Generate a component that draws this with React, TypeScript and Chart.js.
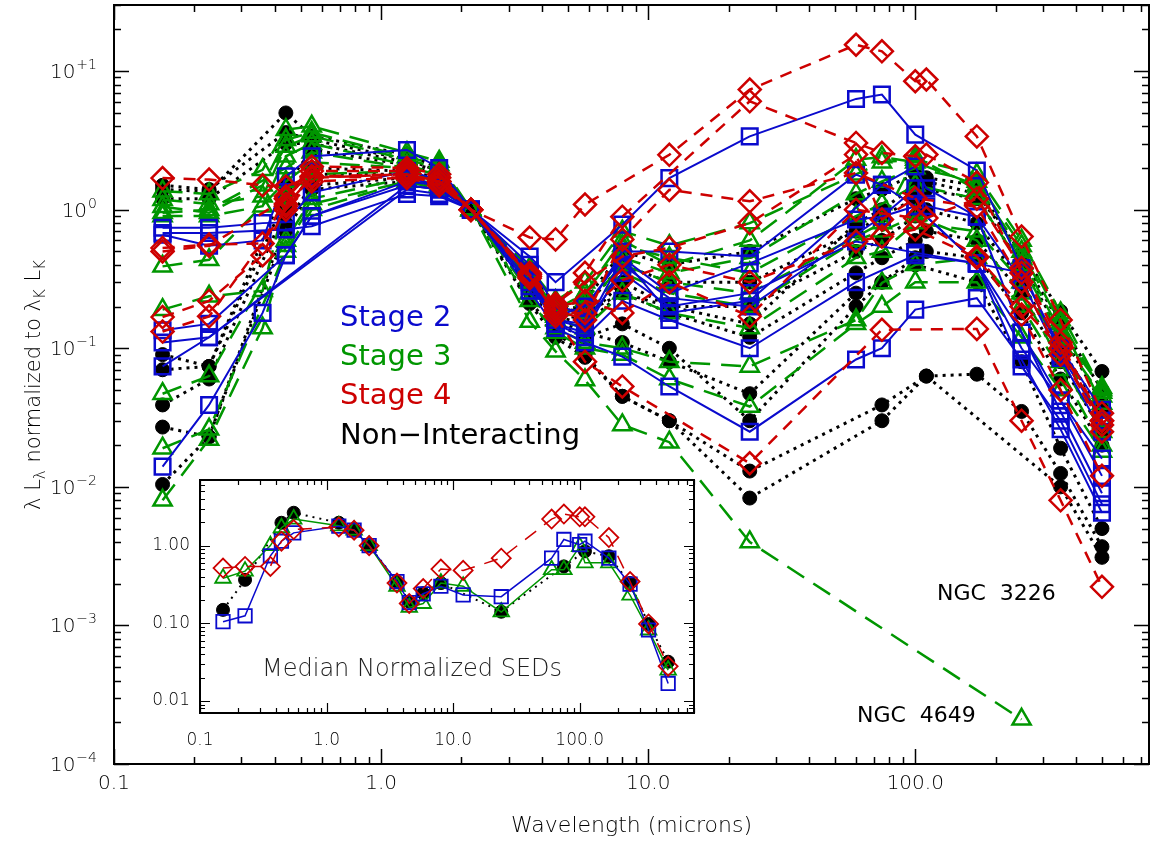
import React, { useEffect, useRef } from 'react';
import { Chart, registerables } from 'chart.js';

Chart.register(...registerables);

const FONT = "'DejaVu Sans', sans-serif";
const W = '300';

// Band wavelengths (microns): FUV, NUV, U, B, V, J, H, K, 3.6, 4.5, 5.8, 8, 12, 24, 60, 75, 100, 110, 170, 250, 350, 500
const wavelengths = [0.152, 0.227, 0.36, 0.44, 0.55, 1.25, 1.65, 2.17, 3.6, 4.5, 5.8, 8.0, 12, 24, 60, 75, 100, 110, 170, 250, 350, 500];

// tick labels
const xTickValues = [0.1, 1, 10, 100];
const xTickLabels = ['0.1', '1.0', '10.0', '100.0'];
const yTickValues = [1e-4, 1e-3, 1e-2, 1e-1, 1, 10];
const yTickExponents = ['\u22124', '\u22123', '\u22122', '\u22121', '0', '+1'];
const insetYTickValues = [0.01, 0.1, 1];
const insetYTickLabels = ['0.01', '0.10', '1.00'];

// ---- Stage 2 (blue squares, solid) ----
const stage2_a = [0.74, 0.74, 0.80, 0.81, 1.33, 1.90, 1.65, 1, 0.46, 0.30, null, 0.78, 1.69, 3.38, 6.30, 6.77, 3.48, null, 1.92, 0.38, 0.090, 0.030];
const stage2_b = [0.68, 0.68, null, 0.72, 0.76, 1.30, 1.25, 1, 0.40, 0.20, 0.18, 0.50, 0.50, 0.46, 1.79, 1.51, 2.05, 1.43, 0.89, 0.31, 0.085, 0.025];
const stage2_c = [0.66, 0.55, 0.60, 1.74, 2.43, 2.70, 2.00, 1, 0.35, 0.17, 0.20, 0.45, 0.25, 0.41, 0.85, 0.89, 1.06, null, 0.41, 0.35, 0.10, 0.036];
const stage2_d = [0.135, 0.15, null, 0.47, 0.90, 1.60, 1.50, 1, 0.30, 0.16, 0.15, 0.35, 0.20, 0.25, 0.59, null, 0.49, null, 0.41, 0.13, 0.042, 0.016];
const stage2_e = [0.014, 0.039, 0.18, 0.47, 0.90, 1.50, 1.40, 1, 0.26, 0.14, 0.11, 0.087, 0.053, 0.025, 0.083, 0.10, 0.19, null, 0.23, 0.083, 0.026, 0.0065];
const stage2_f = [0.11, 0.12, null, null, null, 1.50, 1.40, 1, 0.36, 0.15, 0.12, 0.22, 0.16, 0.10, 0.30, null, 0.47, null, 0.41, 0.10, 0.042, 0.012];
const stage2_g = [0.074, 0.12, null, null, null, 1.40, 1.30, 1, 0.33, 0.15, 0.13, 0.40, 0.23, 0.20, null, 0.89, 1.43, 1.06, 0.89, 0.13, 0.035, 0.009];
const stage2_h = [null, null, null, null, null, 1.70, 1.50, 1, 0.28, 0.16, 0.14, 0.45, 0.18, 0.22, null, 1.51, 1.06, null, 0.41, 0.074, 0.030, 0.0075];

// ---- Stage 3 (green triangles, long dash) ----
const stage3_a = [1.36, 1.30, 1.94, 3.78, 4.00, 2.58, 2.23, 1, 0.30, 0.17, 0.25, 0.55, 0.45, 0.35, 0.90, 1.10, 1.50, null, 1.20, 0.40, 0.12, 0.045];
const stage3_b = [1.18, 1.10, 1.25, 2.86, 3.40, 2.30, 2.00, 1, 0.32, 0.18, 0.20, 0.40, 0.30, 0.25, null, 0.80, 2.40, null, 1.40, 0.45, 0.13, 0.052];
const stage3_c = [0.90, 0.90, 1.06, 2.43, 3.00, 2.10, 1.80, 1, 0.35, 0.19, 0.25, 0.60, 0.40, 0.60, 2.30, 2.40, 2.20, null, 1.50, 0.50, 0.15, 0.040];
const stage3_d = [0.39, 0.435, null, 1.60, 2.20, 2.00, 1.70, 1, 0.32, 0.17, 0.18, 0.35, 0.25, 0.20, 0.60, 0.70, 0.90, null, 0.60, 0.25, 0.08, 0.025];
const stage3_e = [0.19, 0.237, 0.26, 1.20, 1.80, 1.90, 1.60, 1, 0.30, 0.16, 0.14, 0.25, 0.18, 0.14, 0.45, 0.50, 0.80, null, 0.70, 0.30, 0.10, 0.030];
const stage3_f = [0.047, 0.063, null, 0.60, 1.20, 1.70, 1.60, 1, 0.25, 0.14, 0.11, 0.10, 0.08, 0.074, 0.16, 0.296, 0.40, null, 0.45, 0.20, 0.07, 0.020];
const stage3_g = [0.019, 0.026, null, 0.50, 1.00, 1.60, 1.50, 1, 0.22, 0.13, 0.10, 0.09, 0.06, 0.038, 0.15, 0.20, 0.30, null, 0.30, 0.12, 0.05, 0.018];
const stage3_h = [0.95, 1.00, null, 2.00, 2.60, 2.00, 1.80, 1, 0.38, 0.22, 0.30, 0.70, 0.55, 0.80, 1.80, 2.20, 2.30, null, 1.80, 0.60, 0.18, 0.050];
const stage3_i = [1.05, 0.95, 1.50, 3.20, 3.60, 2.40, 2.10, 1, 0.33, 0.19, 0.22, 0.45, 0.35, 0.45, 1.30, 1.60, 2.00, null, 1.60, 0.55, 0.16, 0.048];
const ngc4649 = [0.008, 0.022, 0.14, 0.55, 1.10, 1.60, 1.40, 1, 0.156, 0.095, 0.059, 0.028, 0.021, 0.004, null, null, null, null, null, 0.00021, null, null];

// ---- Stage 4 (red diamonds, dashed) ----
const stage4_a = [1.69, 1.65, 1.50, 1.47, 1.74, 1.70, 1.60, 1, 0.63, 0.61, 1.09, null, 2.49, 7.36, 15.5, 13.9, 8.45, 8.70, 3.38, 0.64, 0.16, 0.034];
const stage4_b = [0.53, 0.56, 0.57, 1.25, 2.05, 2.00, 1.80, 1, 0.34, 0.20, 0.35, 0.89, null, 6.06, 3.03, 2.57, 2.43, 2.50, 1.57, 0.35, 0.10, 0.025];
const stage4_c = [0.168, 0.22, 0.47, 1.06, 1.74, 1.80, 1.60, 1, 0.34, 0.19, 0.16, 0.61, 1.39, 1.15, 1.84, null, 1.21, null, 1.05, 0.30, 0.090, 0.028];
const stage4_e = [0.50, 0.55, null, 1.20, 1.90, 1.90, 1.70, 1, 0.35, 0.21, 0.30, 0.46, 0.53, 0.80, 2.50, 0.85, 1.21, 0.87, 1.20, 0.38, 0.11, 0.030];
const stage4_f = [null, null, null, 1.10, 1.70, 1.80, 1.60, 1, 0.33, 0.18, 0.18, 0.31, 0.40, 0.30, 0.59, 0.64, 0.72, null, 0.45, 0.175, 0.050, 0.012];
const stage4_g = [null, null, null, null, null, 1.70, 1.50, 1, 0.32, 0.20, 0.22, 0.18, 0.30, 0.17, 1.00, null, 0.87, null, 0.46, 0.20, 0.10, 0.030];
const ngc3226 = [0.132, 0.17, null, 1.00, 1.60, 1.70, 1.50, 1, 0.33, 0.17, 0.08, 0.053, null, 0.0148, null, 0.136, null, null, 0.138, 0.030, 0.008, 0.0019];

// ---- Non-interacting (black filled circles, dotted) ----
const nonint_a = [1.40, 1.35, null, 4.99, 3.40, 2.50, 2.00, 1, 0.35, 0.20, 0.18, 0.25, 0.20, 0.15, 0.80, 1.00, 1.50, 1.60, 1.30, 0.49, 0.185, 0.068];
const nonint_b = [1.20, 1.20, null, 3.00, 3.00, 2.20, 1.90, 1, 0.33, 0.19, 0.20, 0.40, 0.30, 0.30, 0.70, 0.90, 1.20, 1.40, 1.20, 0.40, 0.13, 0.040];
const nonint_c = [0.09, 0.074, null, 1.50, 2.70, 2.10, 1.80, 1, 0.32, 0.18, 0.16, 0.30, 0.20, 0.20, 0.50, 0.60, 0.90, 1.00, 0.80, 0.30, 0.10, 0.035];
const nonint_d = [0.07, 0.074, null, 1.20, 2.00, 1.90, 1.70, 1, 0.30, 0.17, 0.15, 0.25, 0.18, 0.12, 0.35, 0.45, 0.60, 0.70, 0.60, 0.25, 0.08, 0.025];
const nonint_e = [0.039, 0.060, null, 1.00, 1.80, 1.80, 1.60, 1, 0.28, 0.16, 0.13, 0.11, 0.08, 0.047, 0.25, 0.30, 0.45, 0.50, 0.45, 0.18, 0.06, 0.020];
const nonint_f = [0.027, 0.023, null, 0.80, 1.50, 1.70, 1.50, 1, 0.22, 0.13, 0.09, 0.045, 0.030, 0.013, null, 0.039, null, 0.063, 0.065, 0.035, 0.0125, 0.0037];
const nonint_g = [0.0104, 0.023, null, 0.70, 1.40, 1.60, 1.50, 1, 0.21, 0.12, 0.086, 0.045, 0.030, 0.0083, null, 0.030, null, 0.063, null, null, 0.010, 0.0031];
const nonint_h = [null, null, null, null, null, 1.80, 1.60, 1, 0.26, 0.15, 0.12, 0.15, 0.10, 0.030, 0.20, 0.30, 0.40, null, 0.30, 0.08, 0.019, 0.005];
const nonint_i = [1.50, 1.40, null, 3.60, 3.20, 2.30, 1.90, 1, 0.34, 0.20, 0.22, 0.50, 0.40, 0.50, 1.20, 1.40, 1.80, 1.70, 1.50, 0.45, 0.15, 0.050];

// ---- Inset: median normalized SEDs ----
const median_nonint = [0.149, 0.363, null, 1.97, 2.65, 1.97, 1.61, 1, 0.345, 0.19, 0.244, 0.33, null, 0.141, null, 0.54, null, 0.845, 0.73, 0.33, 0.098, 0.032];
const median_stage2 = [0.105, 0.125, 0.74, 1.14, 1.46, 1.78, 1.58, 1, 0.345, 0.185, 0.24, 0.30, 0.232, 0.22, 0.69, 1.20, 1.03, 1.14, 0.69, 0.32, 0.082, 0.0168];
const median_stage3 = [0.38, 0.47, 1.00, 1.70, 2.20, 1.80, 1.58, 1, 0.30, 0.16, 0.18, 0.33, 0.30, 0.14, 0.49, 0.49, 0.97, 0.60, 0.60, 0.23, 0.082, 0.025];
const median_stage4 = [0.515, 0.54, 0.54, 1.14, 1.61, 1.74, 1.58, 1, 0.33, 0.18, 0.28, 0.50, 0.48, 0.69, 2.20, 2.55, 2.35, 2.35, 1.27, 0.345, 0.098, 0.028];

const BLUE = 'rgb(10,10,205)';
const GREEN = 'rgb(0,150,0)';
const RED = 'rgb(205,0,0)';
const BLACK = '#000';

type Vals = (number | null)[];

function toPoints(vals: Vals) {
  const pts: { x: number; y: number }[] = [];
  vals.forEach((v, i) => {
    if (v !== null && v !== undefined) pts.push({ x: wavelengths[i], y: v });
  });
  return pts;
}

type Style = {
  color: string;
  pointStyle: string;
  radius: number;
  filled: boolean;
  dash: number[];
  lineWidth: number;
  pointBorder: number;
};

function makeDataset(vals: Vals, s: Style) {
  return {
    data: toPoints(vals),
    borderColor: s.color,
    backgroundColor: s.filled ? s.color : 'rgba(0,0,0,0)',
    borderWidth: s.lineWidth,
    borderDash: s.dash,
    borderCapStyle: 'butt',
    pointStyle: s.pointStyle,
    pointRadius: s.radius,
    pointHoverRadius: s.radius,
    pointBorderWidth: s.pointBorder,
    pointBorderColor: s.color,
    pointBackgroundColor: s.filled ? s.color : 'rgba(0,0,0,0)',
    tension: 0,
    fill: false,
    spanGaps: true,
  };
}

function logTicks(min: number, max: number) {
  const out: { v: number; major: boolean }[] = [];
  for (let e = Math.floor(Math.log10(min)); e <= Math.ceil(Math.log10(max)); e++) {
    for (let m = 1; m <= 9; m++) {
      const v = m * Math.pow(10, e);
      if (v >= min * 0.9999 && v <= max * 1.0001) out.push({ v, major: m === 1 });
    }
  }
  return out;
}

type LabelCfg = {
  xFont: number;
  xLabelY: number;
  yLabelRight: number;
  yLabels: (ctx: any, ys: any, right: number) => void;
};

function framePlugin(id: string, major: number, minor: number, frameWidth: number, tickWidth: number, whiteBg: boolean, lab: LabelCfg) {
  return {
    id,
    beforeDraw(chart: any) {
      if (!whiteBg) return;
      const { ctx, chartArea: a } = chart;
      ctx.save();
      ctx.fillStyle = '#fff';
      ctx.fillRect(a.left, a.top, a.right - a.left, a.bottom - a.top);
      ctx.restore();
    },
    afterDatasetsDraw(chart: any) {
      const { ctx, chartArea: a } = chart;
      const xs = chart.scales.x;
      const ys = chart.scales.y;
      ctx.save();
      ctx.strokeStyle = '#000';
      ctx.setLineDash([]);
      ctx.lineWidth = tickWidth;
      ctx.beginPath();
      for (const t of logTicks(xs.min, xs.max)) {
        const p = Math.round(xs.getPixelForValue(t.v)) + 0.5;
        const l = t.major ? major : minor;
        ctx.moveTo(p, a.bottom);
        ctx.lineTo(p, a.bottom - l);
        ctx.moveTo(p, a.top);
        ctx.lineTo(p, a.top + l);
      }
      for (const t of logTicks(ys.min, ys.max)) {
        const p = Math.round(ys.getPixelForValue(t.v)) + 0.5;
        const l = t.major ? major : minor;
        ctx.moveTo(a.left, p);
        ctx.lineTo(a.left + l, p);
        ctx.moveTo(a.right, p);
        ctx.lineTo(a.right - l, p);
      }
      ctx.stroke();
      ctx.lineWidth = frameWidth;
      ctx.strokeRect(a.left, a.top, a.right - a.left, a.bottom - a.top);

      // x tick labels
      ctx.fillStyle = '#000';
      ctx.font = `${W} ${lab.xFont}px ${FONT}`;
      ctx.textAlign = 'center';
      ctx.textBaseline = 'middle';
      xTickValues.forEach((v, i) => {
        if (v < xs.min * 0.999 || v > xs.max) return;
        ctx.fillText(xTickLabels[i], xs.getPixelForValue(v), lab.xLabelY);
      });
      // y tick labels
      lab.yLabels(ctx, ys, lab.yLabelRight);
      ctx.restore();
    },
  };
}

function mainYLabels(ctx: any, ys: any, right: number) {
  const big = `${W} 20px ${FONT}`;
  const small = `${W} 14px ${FONT}`;
  ctx.textAlign = 'left';
  ctx.textBaseline = 'alphabetic';
  yTickValues.forEach((v, i) => {
    const py = ys.getPixelForValue(v);
    ctx.font = big;
    const wb = ctx.measureText('10').width;
    ctx.font = small;
    const ws = ctx.measureText(yTickExponents[i]).width;
    const x0 = right - wb - ws - 1;
    ctx.font = big;
    ctx.fillText('10', x0, py + 7);
    ctx.font = small;
    ctx.fillText(yTickExponents[i], x0 + wb + 1, py - 2);
  });
}

function insetYLabels(ctx: any, ys: any, right: number) {
  ctx.font = `${W} 17px ${FONT}`;
  ctx.textAlign = 'right';
  ctx.textBaseline = 'middle';
  insetYTickValues.forEach((v, i) => {
    ctx.fillText(insetYTickLabels[i], right, ys.getPixelForValue(v));
  });
}

const annotationsPlugin = {
  id: 'mainText',
  afterDraw(chart: any) {
    const { ctx, chartArea: a } = chart;
    ctx.save();
    ctx.textBaseline = 'alphabetic';
    ctx.textAlign = 'left';
    ctx.font = `400 29px ${FONT}`;
    ctx.fillStyle = BLUE;
    ctx.fillText('Stage 2', 340, 326);
    ctx.fillStyle = GREEN;
    ctx.fillText('Stage 3', 340, 365);
    ctx.fillStyle = RED;
    ctx.fillText('Stage 4', 340, 404);
    ctx.fillStyle = BLACK;
    ctx.fillText('Non\u2212Interacting', 340, 444);

    ctx.font = `400 22px ${FONT}`;
    ctx.textBaseline = 'middle';
    ctx.fillText('NGC  3226', 937, 594);
    ctx.fillText('NGC  4649', 857, 716);

    // x-axis title
    ctx.font = `${W} 22px ${FONT}`;
    ctx.textAlign = 'center';
    ctx.fillText('Wavelength (microns)', (a.left + a.right) / 2, 826);

    // y-axis title with subscripts
    const main = `${W} 21px ${FONT}`;
    const sub = `${W} 15px ${FONT}`;
    const parts: { t: string; s: boolean }[] = [
      { t: '\u03BB L', s: false },
      { t: '\u03BB', s: true },
      { t: ' normalized to \u03BB', s: false },
      { t: 'K', s: true },
      { t: ' L', s: false },
      { t: 'K', s: true },
    ];
    let total = 0;
    for (const p of parts) {
      ctx.font = p.s ? sub : main;
      total += ctx.measureText(p.t).width + (p.s ? 1 : 0);
    }
    ctx.translate(33, (a.top + a.bottom) / 2);
    ctx.rotate(-Math.PI / 2);
    ctx.textAlign = 'left';
    ctx.textBaseline = 'alphabetic';
    let x = -total / 2;
    for (const p of parts) {
      ctx.font = p.s ? sub : main;
      ctx.fillText(p.t, x, p.s ? 12 : 7);
      x += ctx.measureText(p.t).width + (p.s ? 1 : 0);
    }
    ctx.restore();
  },
};

const insetTextPlugin = {
  id: 'insetText',
  afterDraw(chart: any) {
    const { ctx } = chart;
    ctx.save();
    ctx.font = `${W} 24px ${FONT}`;
    ctx.fillStyle = '#222';
    ctx.textAlign = 'left';
    ctx.textBaseline = 'middle';
    ctx.fillText('Median Normalized SEDs', 262 - 130, 670 - 470);
    ctx.restore();
  },
};

const stage2Style: Style = { color: BLUE, pointStyle: 'rect', radius: 11, filled: false, dash: [], lineWidth: 2, pointBorder: 2.5 };
const stage3Style: Style = { color: GREEN, pointStyle: 'triangle', radius: 10.5, filled: false, dash: [20, 11], lineWidth: 2.5, pointBorder: 2.5 };
const stage4Style: Style = { color: RED, pointStyle: 'rectRot', radius: 11, filled: false, dash: [12, 9], lineWidth: 2.5, pointBorder: 2.5 };
const nonintStyle: Style = { color: BLACK, pointStyle: 'circle', radius: 7, filled: true, dash: [3, 5], lineWidth: 3, pointBorder: 1 };

const insetStage2: Style = { color: BLUE, pointStyle: 'rect', radius: 9.5, filled: false, dash: [], lineWidth: 1.5, pointBorder: 1.8 };
const insetStage3: Style = { color: GREEN, pointStyle: 'triangle', radius: 9, filled: false, dash: [], lineWidth: 1.5, pointBorder: 1.8 };
const insetStage4: Style = { color: RED, pointStyle: 'rectRot', radius: 9.5, filled: false, dash: [14, 10], lineWidth: 1.5, pointBorder: 1.8 };
const insetNonint: Style = { color: BLACK, pointStyle: 'circle', radius: 6.5, filled: true, dash: [2, 5], lineWidth: 2, pointBorder: 1 };

function axisOptions(type: 'x' | 'y', min: number, max: number, size: number) {
  return {
    type: 'logarithmic',
    min,
    max,
    position: type === 'x' ? 'bottom' : 'left',
    grid: { display: false, drawTicks: false },
    border: { display: false },
    ticks: { display: false },
    afterFit: (s: any) => {
      if (type === 'x') s.height = size;
      else s.width = size;
      s.paddingLeft = 0;
      s.paddingRight = 0;
      s.paddingTop = 0;
      s.paddingBottom = 0;
    },
  };
}

export default function App() {
  const mainRef = useRef<HTMLCanvasElement>(null);
  const insetRef = useRef<HTMLCanvasElement>(null);

  useEffect(() => {
    document.body.style.margin = '0';
    const red = [stage4_a, stage4_b, stage4_c, stage4_e, stage4_f, stage4_g, ngc3226].map((v) => makeDataset(v, stage4Style));
    const blue = [stage2_a, stage2_b, stage2_c, stage2_d, stage2_e, stage2_f, stage2_g, stage2_h].map((v) => makeDataset(v, stage2Style));
    const green = [stage3_a, stage3_b, stage3_c, stage3_d, stage3_e, stage3_f, stage3_g, stage3_h, stage3_i, ngc4649].map((v) => makeDataset(v, stage3Style));
    const black = [nonint_a, nonint_b, nonint_c, nonint_d, nonint_e, nonint_f, nonint_g, nonint_h, nonint_i].map((v) => makeDataset(v, nonintStyle));

    const main = new Chart(mainRef.current as HTMLCanvasElement, {
      type: 'line',
      data: { datasets: [...red, ...blue, ...green, ...black] as any },
      options: {
        animation: false,
        responsive: false,
        devicePixelRatio: 1,
        layout: { autoPadding: false, padding: { left: 0, top: 5, right: 2, bottom: 0 } },
        plugins: { legend: { display: false }, tooltip: { enabled: false } },
        events: [],
        scales: {
          x: axisOptions('x', 0.1, 750, 78),
          y: axisOptions('y', 1e-4, 30, 114),
        },
      } as any,
      plugins: [
        framePlugin('mainFrame', 15, 7, 2, 1.5, false, {
          xFont: 20,
          xLabelY: 784,
          yLabelRight: 97,
          yLabels: mainYLabels,
        }),
        annotationsPlugin,
      ],
    });

    const insetData = [
      makeDataset(median_stage4, insetStage4),
      makeDataset(median_stage2, insetStage2),
      makeDataset(median_stage3, insetStage3),
      makeDataset(median_nonint, insetNonint),
    ];

    const inset = new Chart(insetRef.current as HTMLCanvasElement, {
      type: 'line',
      data: { datasets: insetData as any },
      options: {
        animation: false,
        responsive: false,
        devicePixelRatio: 1,
        layout: { autoPadding: false, padding: { left: 0, top: 10, right: 16, bottom: 0 } },
        plugins: { legend: { display: false }, tooltip: { enabled: false } },
        events: [],
        scales: {
          x: axisOptions('x', 0.1, 800, 47),
          y: axisOptions('y', 0.007, 7, 70),
        },
      } as any,
      plugins: [
        framePlugin('insetFrame', 10, 5, 2, 1.2, true, {
          xFont: 17,
          xLabelY: 741 - 470,
          yLabelRight: 60,
          yLabels: insetYLabels,
        }),
        insetTextPlugin,
      ],
    });

    return () => {
      main.destroy();
      inset.destroy();
    };
  }, []);

  return (
    <div style={{ position: 'fixed', left: 0, top: 0, width: 1151, height: 842, background: '#fff' }}>
      <canvas
        ref={mainRef}
        width={1151}
        height={842}
        style={{ position: 'absolute', left: 0, top: 0, width: 1151, height: 842 }}
      />
      <canvas
        ref={insetRef}
        width={580}
        height={290}
        style={{ position: 'absolute', left: 130, top: 470, width: 580, height: 290 }}
      />
    </div>
  );
}
